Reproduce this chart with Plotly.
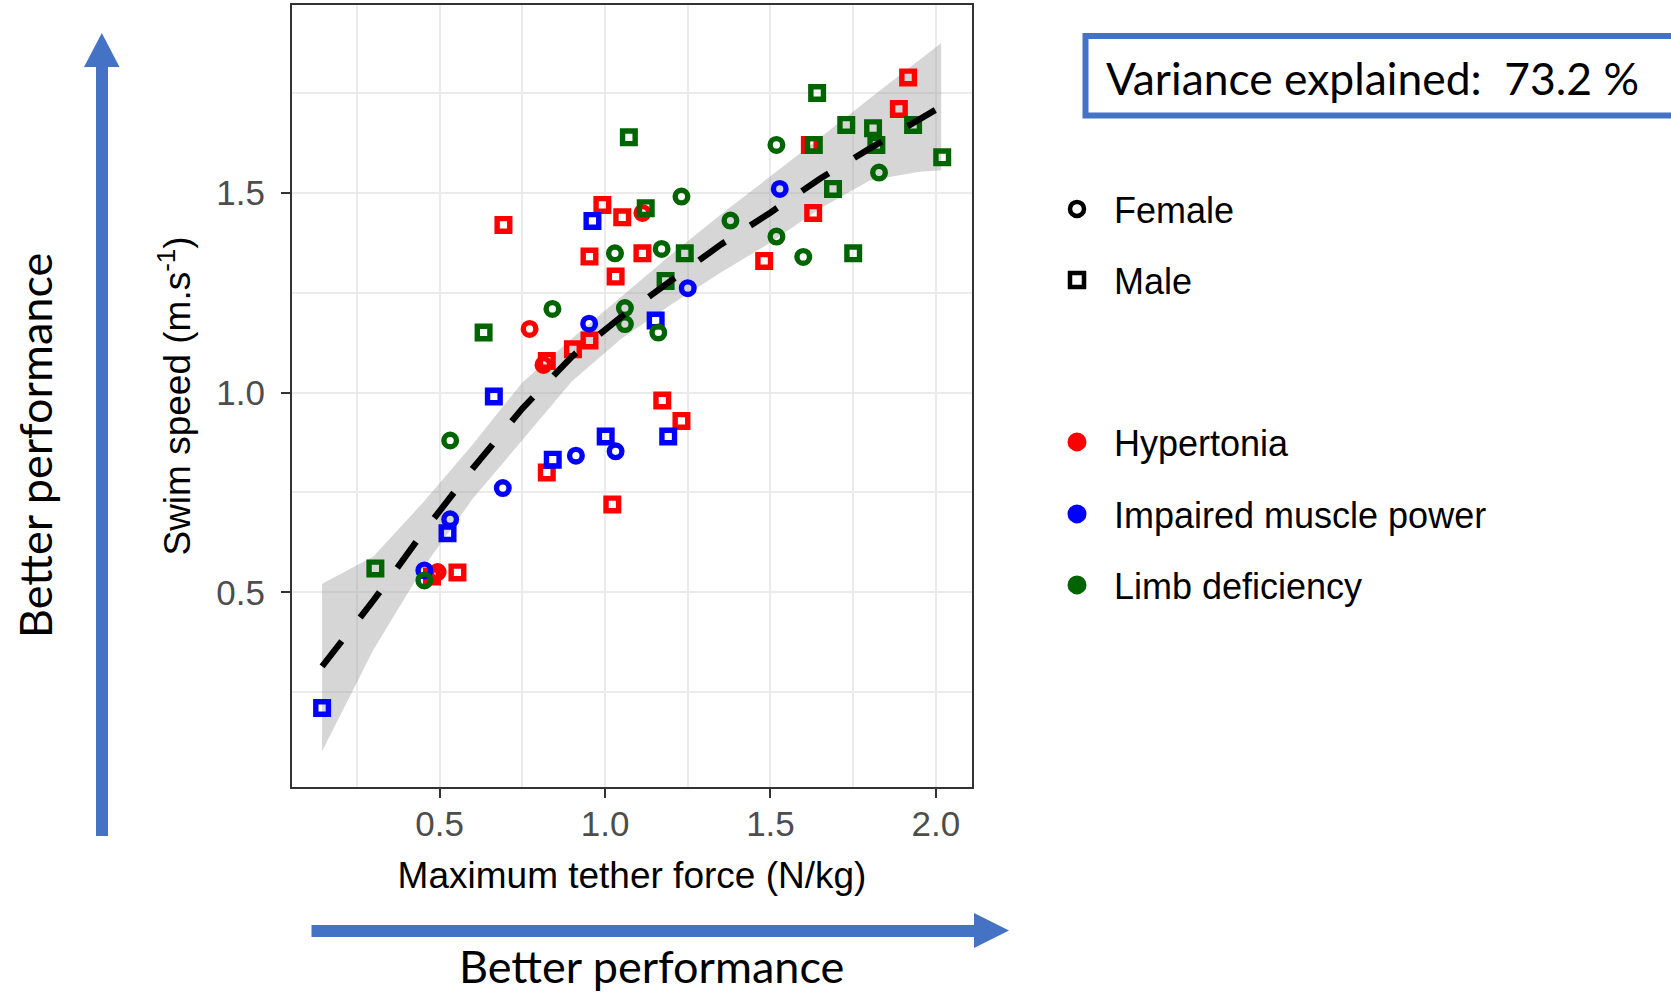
import plotly.graph_objects as go

# ---------------- data ----------------
# Hypertonia (red)
hyp_f_x = [0.494, 0.772, 0.814, 1.113]
hyp_f_y = [0.551, 1.159, 1.069, 1.449]
hyp_m_x = [0.477, 0.554, 0.693, 0.824, 0.824, 0.903, 0.953, 0.953, 0.992, 1.022,
           1.032, 1.052, 1.113, 1.173, 1.231, 1.481, 1.619, 1.629, 1.888, 1.916]
hyp_m_y = [0.540, 0.550, 1.419, 1.079, 0.800, 1.108, 1.130, 1.340, 1.469, 0.720,
           1.290, 1.438, 1.348, 0.980, 0.929, 1.329, 1.619, 1.449, 1.709, 1.788]
# Impaired muscle power (blue)
imp_f_x = [0.454, 0.532, 0.691, 0.912, 0.952, 1.032, 1.250, 1.528]
imp_f_y = [0.555, 0.683, 0.761, 0.842, 1.172, 0.853, 1.261, 1.509]
imp_m_x = [0.145, 0.524, 0.664, 0.842, 0.962, 1.002, 1.153, 1.191]
imp_m_y = [0.211, 0.648, 0.990, 0.832, 1.429, 0.890, 1.180, 0.890]
# Limb deficiency (green)
limb_f_x = [0.454, 0.532, 0.841, 1.030, 1.060, 1.060, 1.161, 1.171, 1.231, 1.379,
            1.518, 1.518, 1.599, 1.828]
limb_f_y = [0.530, 0.880, 1.209, 1.348, 1.211, 1.171, 1.150, 1.359, 1.490, 1.430,
            1.619, 1.390, 1.339, 1.550]
limb_m_x = [0.306, 0.633, 1.072, 1.123, 1.183, 1.241, 1.631, 1.641, 1.689, 1.729,
            1.750, 1.810, 1.820, 1.931, 2.019]
limb_m_y = [0.560, 1.150, 1.638, 1.461, 1.279, 1.348, 1.619, 1.749, 1.509, 1.669,
            1.348, 1.661, 1.619, 1.669, 1.588]

# smooth fit and its confidence band
fit_x = [0.145, 0.3, 0.45, 0.6, 0.75, 0.9, 1.05, 1.2, 1.35, 1.5, 1.65, 1.8, 1.95, 2.016]
fit_y = [0.315, 0.48, 0.65, 0.81, 0.96, 1.09, 1.19, 1.28, 1.37, 1.45, 1.535, 1.61, 1.685, 1.715]
ci_hi = [0.522, 0.59, 0.725, 0.87, 1.025, 1.135, 1.24, 1.345, 1.445, 1.54, 1.637, 1.735, 1.83, 1.874]
ci_lo = [0.103, 0.357, 0.561, 0.734, 0.881, 1.028, 1.135, 1.22, 1.30, 1.375, 1.46, 1.53, 1.552, 1.556]

x_ticks = [0.5, 1.0, 1.5, 2.0]
x_tick_labels = ["0.5", "1.0", "1.5", "2.0"]
y_ticks = [0.5, 1.0, 1.5]
y_tick_labels = ["0.5", "1.0", "1.5"]

sex_names = ["Female", "Male"]
group_names = ["Hypertonia", "Impaired muscle power", "Limb deficiency"]
variance_text = "Variance explained:\u00a0\u00a073.2 %"
x_title = "Maximum tether force (N/kg)"
y_title = "Swim speed (m.s<sup>-1</sup>)"
perf_text = "Better performance"

# ---------------- styling ----------------
RED, BLUE, GREEN = "#FF0000", "#0000FF", "#006400"
ARROW = "#4472C4"
FONT = "Liberation Sans, Arial, sans-serif"
CAL = "Lato, Carlito, sans-serif"
W, H = 1671, 993
L, R, T, B = 292, 972, 5, 787


def pxx(x):
    return (x - L) / (R - L)


def pxy(y):
    return (B - y) / (B - T)


fig = go.Figure()

# confidence band
fig.add_trace(go.Scatter(
    x=fit_x + fit_x[::-1], y=ci_hi + ci_lo[::-1], fill="toself",
    fillcolor="rgba(153,153,153,0.4)", line=dict(width=0), mode="lines",
    hoverinfo="skip", showlegend=False))

MS, LW = 12.6, 5.4
series = [
    (hyp_f_x, hyp_f_y, RED, "circle-open"),
    (hyp_m_x, hyp_m_y, RED, "square-open"),
    (imp_f_x, imp_f_y, BLUE, "circle-open"),
    (imp_m_x, imp_m_y, BLUE, "square-open"),
    (limb_f_x, limb_f_y, GREEN, "circle-open"),
    (limb_m_x, limb_m_y, GREEN, "square-open"),
]
for xs, ys, col, sym in series:
    fig.add_trace(go.Scatter(
        x=xs, y=ys, mode="markers", showlegend=False,
        marker=dict(symbol=sym, size=MS, color=col, line=dict(width=LW, color=col))))

# fitted line
fig.add_trace(go.Scatter(
    x=fit_x, y=fit_y, mode="lines", showlegend=False,
    line=dict(color="black", width=6.3, dash="32px,30px")))

# legend entries (one legend per entry to match spacing)
legend_keys = ["legend", "legend2", "legend3", "legend4", "legend5"]
leg_specs = [
    (sex_names[0], "black", "circle-open", 14, 4.5),
    (sex_names[1], "black", "square-open", 14, 4.5),
    (group_names[0], RED, "circle", 16, 3),
    (group_names[1], BLUE, "circle", 16, 3),
    (group_names[2], GREEN, "circle", 16, 3),
]
for key, (name, col, sym, sz, lw) in zip(legend_keys, leg_specs):
    fig.add_trace(go.Scatter(
        x=[None], y=[None], mode="markers", name=name, legend=key, showlegend=True,
        marker=dict(symbol=sym, size=sz, color=col, line=dict(width=lw, color=col))))

leg_centers = [209, 280, 442, 514, 585]
legend_layout = {}
for key, cy in zip(legend_keys, leg_centers):
    legend_layout[key] = dict(
        x=pxx(1040), y=pxy(cy), xanchor="left", yanchor="middle",
        bgcolor="rgba(0,0,0,0)", borderwidth=0, itemwidth=64,
        font=dict(family=FONT, size=36, color="black"))

axis_common = dict(
    showgrid=True, gridcolor="#EBEBEB", gridwidth=2.2,
    showline=True, mirror=True, linecolor="#333333", linewidth=2,
    ticks="outside", ticklen=9, tickwidth=2, tickcolor="#333333",
    tickfont=dict(family=FONT, size=35, color="#4D4D4D"),
    zeroline=False, automargin=False,
    minor=dict(dtick=0.25, tick0=0, showgrid=True, gridcolor="#EBEBEB", gridwidth=1.6, ticks=""),
)

fig.update_layout(
    width=W, height=H, template="none",
    paper_bgcolor="white", plot_bgcolor="white",
    margin=dict(l=L, r=W - R, t=T, b=H - B, pad=0),
    xaxis=dict(range=[0.054, 2.109], tickmode="array", tickvals=x_ticks, ticktext=x_tick_labels,
               ticklabelstandoff=-4,
               title=dict(text=x_title, font=dict(family=FONT, size=37, color="black"), standoff=20),
               **axis_common),
    yaxis=dict(range=[0.0135, 1.969], tickmode="array", tickvals=y_ticks, ticktext=y_tick_labels,
               ticklabelstandoff=9,
               title=dict(text=y_title, font=dict(family=FONT, size=37, color="black"), standoff=14),
               **axis_common),
    **legend_layout,
)

# arrows and box
shapes = [
    dict(type="rect", xref="paper", yref="paper", x0=pxx(96), x1=pxx(108), y0=pxy(836), y1=pxy(66),
         fillcolor=ARROW, line=dict(width=0)),
    dict(type="path", xref="paper", yref="paper",
         path=f"M{pxx(84)},{pxy(67)} L{pxx(119.5)},{pxy(67)} L{pxx(101.8)},{pxy(33)} Z",
         fillcolor=ARROW, line=dict(width=0)),
    dict(type="rect", xref="paper", yref="paper", x0=pxx(311.5), x1=pxx(975), y0=pxy(937), y1=pxy(925),
         fillcolor=ARROW, line=dict(width=0)),
    dict(type="path", xref="paper", yref="paper",
         path=f"M{pxx(974)},{pxy(913)} L{pxx(974)},{pxy(948)} L{pxx(1009)},{pxy(930.5)} Z",
         fillcolor=ARROW, line=dict(width=0)),
    dict(type="rect", xref="paper", yref="paper", x0=pxx(1085.5), x1=pxx(1720), y0=pxy(115.5), y1=pxy(36),
         line=dict(color=ARROW, width=6), fillcolor="rgba(0,0,0,0)"),
]
fig.update_layout(shapes=shapes)

fig.add_annotation(xref="paper", yref="paper", x=pxx(1104), y=pxy(77), xanchor="left", yanchor="middle",
                   text=variance_text, showarrow=False, font=dict(family=CAL, size=44.4, color="black"))
fig.add_annotation(xref="paper", yref="paper", x=pxx(651), y=pxy(966), xanchor="center", yanchor="middle",
                   text=perf_text, showarrow=False, font=dict(family=CAL, size=45, color="black"))
fig.add_annotation(xref="paper", yref="paper", x=pxx(35), y=pxy(446), xanchor="center", yanchor="middle",
                   text=perf_text, textangle=-90, showarrow=False, font=dict(family=CAL, size=45, color="black"))

fig.write_html("out.html", post_script="document.body.style.margin='0';",
               config={"displayModeBar": False})
